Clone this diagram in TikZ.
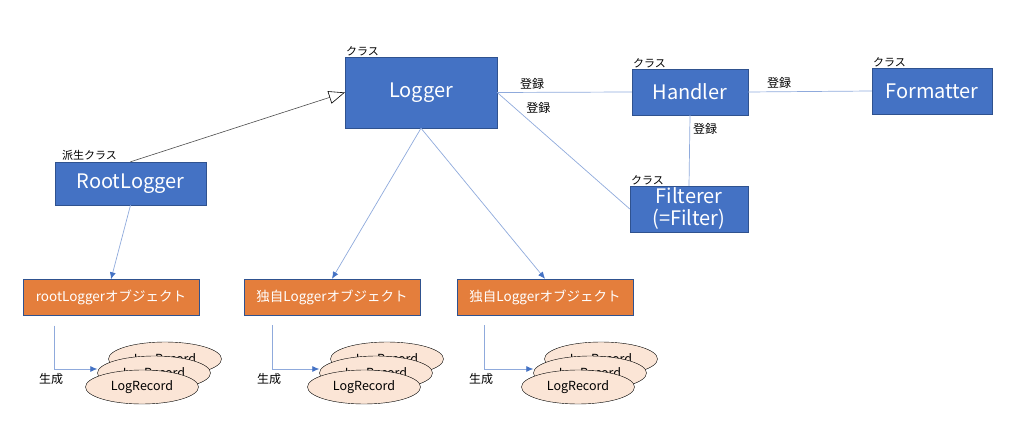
\documentclass[tikz,border=0pt]{standalone}
\usepackage{fontspec}
\setmainfont{Noto Sans CJK JP}
\usetikzlibrary{shapes.geometric,arrows.meta,positioning}
\definecolor{boxblue}{HTML}{4472C4}
\definecolor{boxedge}{HTML}{2F528F}
\definecolor{objorange}{HTML}{E47E3C}
\definecolor{recfill}{HTML}{FBE5D6}
\definecolor{linkblue}{HTML}{8FAADC}
\tikzset{
  cls/.style={draw=boxedge,fill=boxblue,text=white,inner sep=0pt,align=center,font=\fontsize{20}{22}\selectfont},
  obj/.style={draw=boxedge,fill=objorange,text=white,inner sep=0pt,minimum width=176pt,minimum height=36pt,font=\fontsize{13.5}{15}\selectfont},
  rec/.style={ellipse,draw=black,fill=recfill,inner sep=0pt,minimum width=113pt,minimum height=34pt,font=\fontsize{12.5}{14}\selectfont},
  tag/.style={font=\fontsize{11}{12}\selectfont,inner sep=1pt},
  lbl/.style={font=\fontsize{12}{13}\selectfont,inner sep=1pt},
  link/.style={draw=linkblue,line width=0.7pt},
  make/.style={link,-{Latex[length=7pt,width=6pt,color=boxblue]}},
}
\begin{document}
\begin{tikzpicture}[x=1pt,y=-1pt]
\useasboundingbox(0,0)rectangle(1024,443);
\node[cls,minimum width=152pt,minimum height=71pt](logger)at(421,92.5){Logger};
\node[cls,minimum width=151pt,minimum height=43pt](root)at(130.5,183.5){RootLogger};
\node[cls,minimum width=116pt,minimum height=46pt](handler)at(690,92){Handler};
\node[cls,minimum width=120pt,minimum height=46pt](formatter)at(932,91){Formatter};
\node[cls,minimum width=118pt,minimum height=46pt](filterer)at(689,209){Filterer\\(=Filter)};
\node[tag,anchor=south west](tlogger)at(logger.north west){クラス};
\node[tag,anchor=south west,xshift=6pt](troot)at(root.north west){派生クラス};
\node[tag,anchor=south west](thandler)at(handler.north west){クラス};
\node[tag,anchor=south west](tformatter)at(formatter.north west){クラス};
\node[tag,anchor=south west](tfilterer)at(filterer.north west){クラス};
\node[obj](objroot)at(111,297.5){rootLoggerオブジェクト};
\node[obj](objone)at(332,297){独自Loggerオブジェクト};
\node[obj](objtwo)at(545,297){独自Loggerオブジェクト};
\draw[draw=black!70,line width=0.6pt,-{Triangle[open,length=16pt,width=13pt,color=black]}](root.north)--(logger.west);
\draw[link](logger.east)--(handler.west)node[lbl,pos=0.26,above=2pt]{登録};
\draw[link](logger.east)--(filterer.west)node[lbl,pos=0.2,above right=2pt]{登録};
\draw[link](handler.east)--(formatter.west)node[lbl,pos=0.25,above=2pt]{登録};
\draw[link](handler.south)--(filterer.north)node[lbl,pos=0.2,right=2pt]{登録};
\draw[make](root.south)--(objroot.north);
\draw[make](logger.south)--(objone.north);
\draw[make](logger.south)--(objtwo.north);
\foreach \o/\fx/\dx in {objroot/142/-57,objone/364/-60,objtwo/578/-61}{
  \node[rec,text depth=-5pt](\o-r3)at(\fx+23,359){LogRecord};
  \node[rec,text depth=-5pt](\o-r2)at(\fx+12,373){LogRecord};
  \node[rec](\o-r1)at(\fx,387){LogRecord};
  \draw[make]([xshift=\dx pt,yshift=-10pt]\o.south)|-([yshift=4pt]\o-r2.west)
    node[lbl,pos=0.5,anchor=north,xshift=-3pt,yshift=-3pt]{生成};
}
\end{tikzpicture}
\end{document}
